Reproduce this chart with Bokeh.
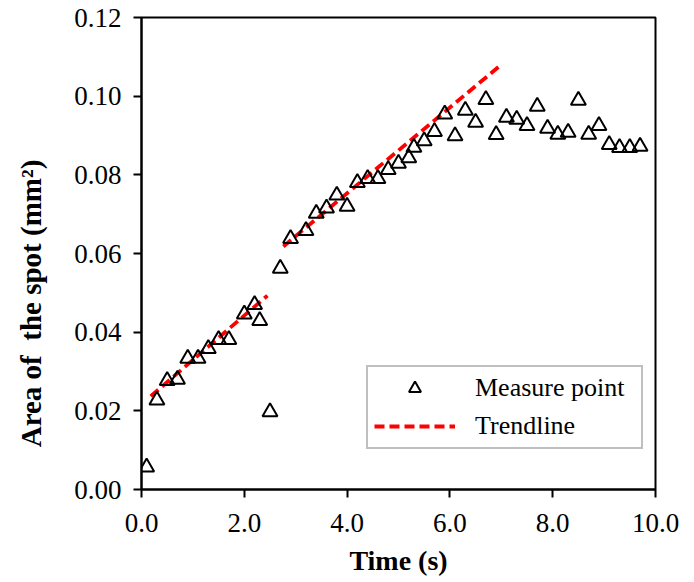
import math
from bokeh.plotting import figure
from bokeh.models import Legend, LegendItem, SingleIntervalTicker, NumeralTickFormatter, Range1d, Label
from bokeh.embed import file_html
from bokeh.resources import INLINE

# --- data ---
time_s = [0.1, 0.3, 0.5, 0.7, 0.9, 1.1, 1.3, 1.5, 1.7, 2.0, 2.2, 2.3, 2.5, 2.7,
          2.9, 3.2, 3.4, 3.6, 3.8, 4.0, 4.2, 4.4, 4.6, 4.8, 5.0, 5.2, 5.3, 5.5,
          5.7, 5.9, 6.1, 6.3, 6.5, 6.7, 6.9, 7.1, 7.3, 7.5, 7.7, 7.9, 8.1, 8.3,
          8.5, 8.7, 8.9, 9.1, 9.3, 9.5, 9.7]
area_mm2 = [0.0057, 0.0227, 0.0277, 0.0280, 0.0333, 0.0333, 0.0358, 0.0381, 0.0381,
            0.0446, 0.0470, 0.0429, 0.0197, 0.0562,
            0.0638, 0.0658, 0.0702, 0.0715, 0.0748, 0.0720, 0.0780, 0.0790, 0.0790,
            0.0813, 0.0829, 0.0843, 0.0870, 0.0886,
            0.0910, 0.0954, 0.0899, 0.0964, 0.0933, 0.0991, 0.0902, 0.0946, 0.0941,
            0.0925, 0.0974, 0.0918, 0.0903, 0.0908,
            0.0989, 0.0903, 0.0925, 0.0877, 0.0869, 0.0869, 0.0872]

trend1_x = [0.18, 2.45]
trend1_y = [0.0237, 0.0493]
trend2_x = [2.76, 6.98]
trend2_y = [0.0618, 0.1078]

x_ticks_interval = 2.0
y_ticks_interval = 0.02

FONT = "Liberation Serif"

p = figure(width=690, height=578, output_backend="svg", toolbar_location=None,
           x_range=Range1d(0, 10), y_range=Range1d(0, 0.12),
           min_border_left=141, min_border_right=35, min_border_top=17, min_border_bottom=89)

p.background_fill_color = "white"
p.border_fill_color = "white"
p.grid.visible = False
p.outline_line_color = "black"
p.outline_line_width = 2

tr1 = p.line(trend1_x, trend1_y, line_color="#FF0000", line_width=3.8, line_dash="10 5")
tr2 = p.line(trend2_x, trend2_y, line_color="#FF0000", line_width=3.8, line_dash="10 5")
pts = p.scatter(time_s, area_mm2, marker="triangle", size=15, fill_color=None,
                line_color="black", line_width=2)

for ax in (p.xaxis[0], p.yaxis[0]):
    ax.axis_line_color = "black"
    ax.axis_line_width = 2
    ax.major_tick_line_color = "black"
    ax.major_tick_line_width = 2
    ax.major_tick_out = 8
    ax.major_tick_in = 0
    ax.minor_tick_line_color = None
    ax.major_label_text_font = FONT
    ax.major_label_text_font_size = "27px"
    ax.major_label_text_color = "black"
    ax.axis_label_text_font = FONT
    ax.axis_label_text_font_size = "28px"
    ax.axis_label_text_font_style = "bold"
    ax.axis_label_text_color = "black"

p.xaxis[0].ticker = SingleIntervalTicker(interval=x_ticks_interval)
p.yaxis[0].ticker = SingleIntervalTicker(interval=y_ticks_interval)
p.xaxis[0].formatter = NumeralTickFormatter(format="0.0")
p.yaxis[0].formatter = NumeralTickFormatter(format="0.00")
p.xaxis[0].major_label_standoff = 16
p.yaxis[0].major_label_standoff = 12
p.xaxis[0].axis_label = "Time (s)"
p.xaxis[0].axis_label_standoff = 10

# y-axis title placed as a label in the left panel (offset like the reference)
ytitle = Label(x=-9, y=186, x_units="screen", y_units="screen",
               text="Area of\u00a0 the spot (mm²)", angle=math.pi / 2,
               text_align="center", text_baseline="middle",
               text_font=FONT, text_font_size="29px", text_font_style="bold",
               text_color="black")
p.add_layout(ytitle, "left")

legend = Legend(items=[LegendItem(label="Measure point", renderers=[pts]),
                       LegendItem(label="Trendline", renderers=[tr1])],
                location=(225, 40), orientation="vertical")
legend.label_text_font = FONT
legend.label_text_font_size = "26px"
legend.label_text_color = "black"
legend.glyph_width = 81
legend.glyph_height = 30
legend.label_height = 30
legend.label_width = 160
legend.label_standoff = 20
legend.spacing = 8
legend.padding = 6
legend.margin = 0
legend.border_line_color = "#808080"
legend.border_line_width = 2
legend.background_fill_color = "white"
legend.background_fill_alpha = 1
p.add_layout(legend)

open("out.html", "w").write(file_html(p, INLINE))
